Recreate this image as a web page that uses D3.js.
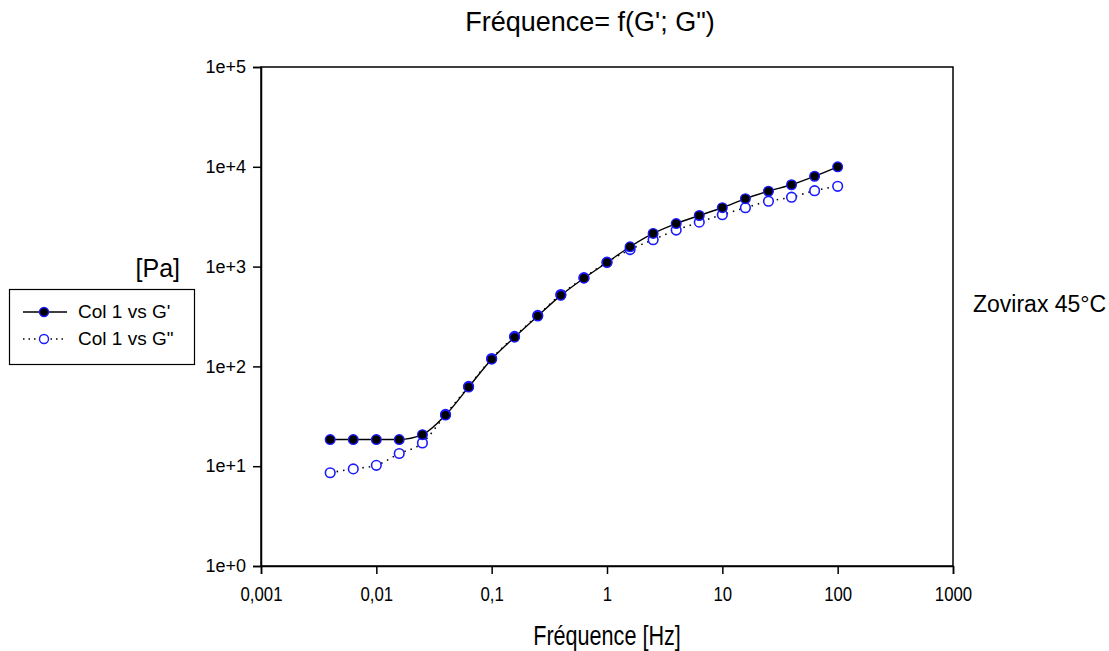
<!DOCTYPE html>
<html>
<head>
<meta charset="utf-8">
<script src="https://cdn.jsdelivr.net/npm/d3@7"></script>
<style>
  body { margin: 0; background: #fff; }
  text { font-family: Arial, "Liberation Sans", sans-serif; fill: #000; }
</style>
</head>
<body>
<div id="chart"></div>
<script>
// frequency [Hz]
var freq = [0.00398, 0.00631, 0.01, 0.0158, 0.0251, 0.0398, 0.0631, 0.1, 0.158, 0.251,
  0.398, 0.631, 1, 1.585, 2.512, 3.981, 6.31, 10, 15.85, 25.12, 39.81, 63.1, 100];
// G' [Pa]
var gPrime = [18.5, 18.5, 18.5, 18.5, 20.7, 32.5, 62, 118, 196, 320,
  515, 765, 1100, 1580, 2150, 2700, 3250, 3890, 4790, 5690, 6610, 8040, 9990];
// G'' [Pa]
var gSecond = [8.6, 9.4, 10.2, 13.4, 17.1, 33, 63, 120, 200, 324,
  525, 775, 1107, 1480, 1860, 2320, 2790, 3310, 3890, 4520, 4960, 5760, 6380];

var xTicks = [0.001, 0.01, 0.1, 1, 10, 100, 1000];
var xTickLabels = ["0,001", "0,01", "0,1", "1", "10", "100", "1000"];
var yTicks = [1, 10, 100, 1000, 10000, 100000];
var yTickLabels = ["1e+0", "1e+1", "1e+2", "1e+3", "1e+4", "1e+5"];

var W = 1109, H = 651;
var plotLeft = 261, plotRight = 953, plotTop = 67, plotBottom = 566;

var svg = d3.select("#chart").append("svg")
  .attr("width", W).attr("height", H);

var x = d3.scaleLog().domain([0.001, 1000]).range([plotLeft, plotRight]);
var y = d3.scaleLog().domain([1, 100000]).range([plotBottom, plotTop]);

// frame
svg.append("rect")
  .attr("x", plotLeft).attr("y", plotTop)
  .attr("width", plotRight - plotLeft).attr("height", plotBottom - plotTop)
  .attr("fill", "none").attr("stroke", "#000").attr("stroke-width", 1.5);

// x axis
var xAxis = d3.axisBottom(x).tickValues(xTicks)
  .tickFormat(function(d, i) { return xTickLabels[i]; })
  .tickSizeOuter(0).tickSize(8).tickPadding(12);
var gx = svg.append("g")
  .attr("transform", "translate(0," + plotBottom + ")")
  .call(xAxis);
gx.select(".domain").attr("stroke-width", 1.5);
gx.selectAll("line").attr("stroke-width", 1.5);
gx.selectAll("text").attr("font-size", 21).attr("fill", "#000")
  .attr("transform", "scale(0.8,1)");

// y axis
var yAxis = d3.axisLeft(y).tickValues(yTicks)
  .tickFormat(function(d, i) { return yTickLabels[i]; })
  .tickSizeOuter(0).tickSize(8).tickPadding(7);
var gy = svg.append("g")
  .attr("transform", "translate(" + plotLeft + ",0)")
  .call(yAxis);
gy.select(".domain").attr("stroke-width", 1.5);
gy.selectAll("line").attr("stroke-width", 1.5);
gy.selectAll("text").attr("font-size", 18).attr("fill", "#000");

// lines
var line1 = d3.line()
  .x(function(d, i) { return x(freq[i]); })
  .y(function(d) { return y(d); })
  .curve(d3.curveMonotoneX);

svg.append("path").datum(gPrime)
  .attr("d", line1).attr("fill", "none")
  .attr("stroke", "#000").attr("stroke-width", 1.4);

svg.append("path").datum(gSecond)
  .attr("d", line1).attr("fill", "none")
  .attr("stroke", "#000").attr("stroke-width", 1.6)
  .attr("stroke-dasharray", "1.5,5");

// markers
svg.selectAll(".m2").data(gSecond).enter().append("circle")
  .attr("class", "m2")
  .attr("cx", function(d, i) { return x(freq[i]); })
  .attr("cy", function(d) { return y(d); })
  .attr("r", 4.8)
  .attr("fill", "#fff").attr("stroke", "#1a1aff").attr("stroke-width", 1.6);

svg.selectAll(".m1").data(gPrime).enter().append("circle")
  .attr("class", "m1")
  .attr("cx", function(d, i) { return x(freq[i]); })
  .attr("cy", function(d) { return y(d); })
  .attr("r", 4.8)
  .attr("fill", "#000").attr("stroke", "#1a1aff").attr("stroke-width", 1.4);

// titles
svg.append("text").text("Fréquence= f(G'; G\")")
  .attr("x", 590).attr("y", 31)
  .attr("text-anchor", "middle").attr("font-size", 27);

svg.append("text").text("Fréquence [Hz]")
  .attr("text-anchor", "middle").attr("font-size", 27)
  .attr("transform", "translate(607,645) scale(0.8,1)");

svg.append("text").text("[Pa]")
  .attr("x", 180).attr("y", 277)
  .attr("text-anchor", "end").attr("font-size", 25);

svg.append("text").text("Zovirax 45°C")
  .attr("x", 973).attr("y", 312)
  .attr("font-size", 23);

// legend
var legend = svg.append("g");
legend.append("rect")
  .attr("x", 9.5).attr("y", 289.5).attr("width", 185).attr("height", 75)
  .attr("fill", "none").attr("stroke", "#000").attr("stroke-width", 1.2);

var legendItems = ["Col 1 vs G'", "Col 1 vs G\""];
legendItems.forEach(function(name, i) {
  var ly = 312 + i * 27;
  legend.append("line")
    .attr("x1", 23).attr("x2", 67).attr("y1", ly).attr("y2", ly)
    .attr("stroke", "#000").attr("stroke-width", i === 0 ? 1.4 : 1.6)
    .attr("stroke-dasharray", i === 0 ? null : "1.5,4");
  legend.append("circle")
    .attr("cx", 44).attr("cy", ly).attr("r", 4.5)
    .attr("fill", i === 0 ? "#000" : "#fff")
    .attr("stroke", "#1a1aff").attr("stroke-width", 1.4);
  legend.append("text").text(name)
    .attr("x", 78).attr("y", ly + 6).attr("font-size", 19);
});
</script>
</body>
</html>
